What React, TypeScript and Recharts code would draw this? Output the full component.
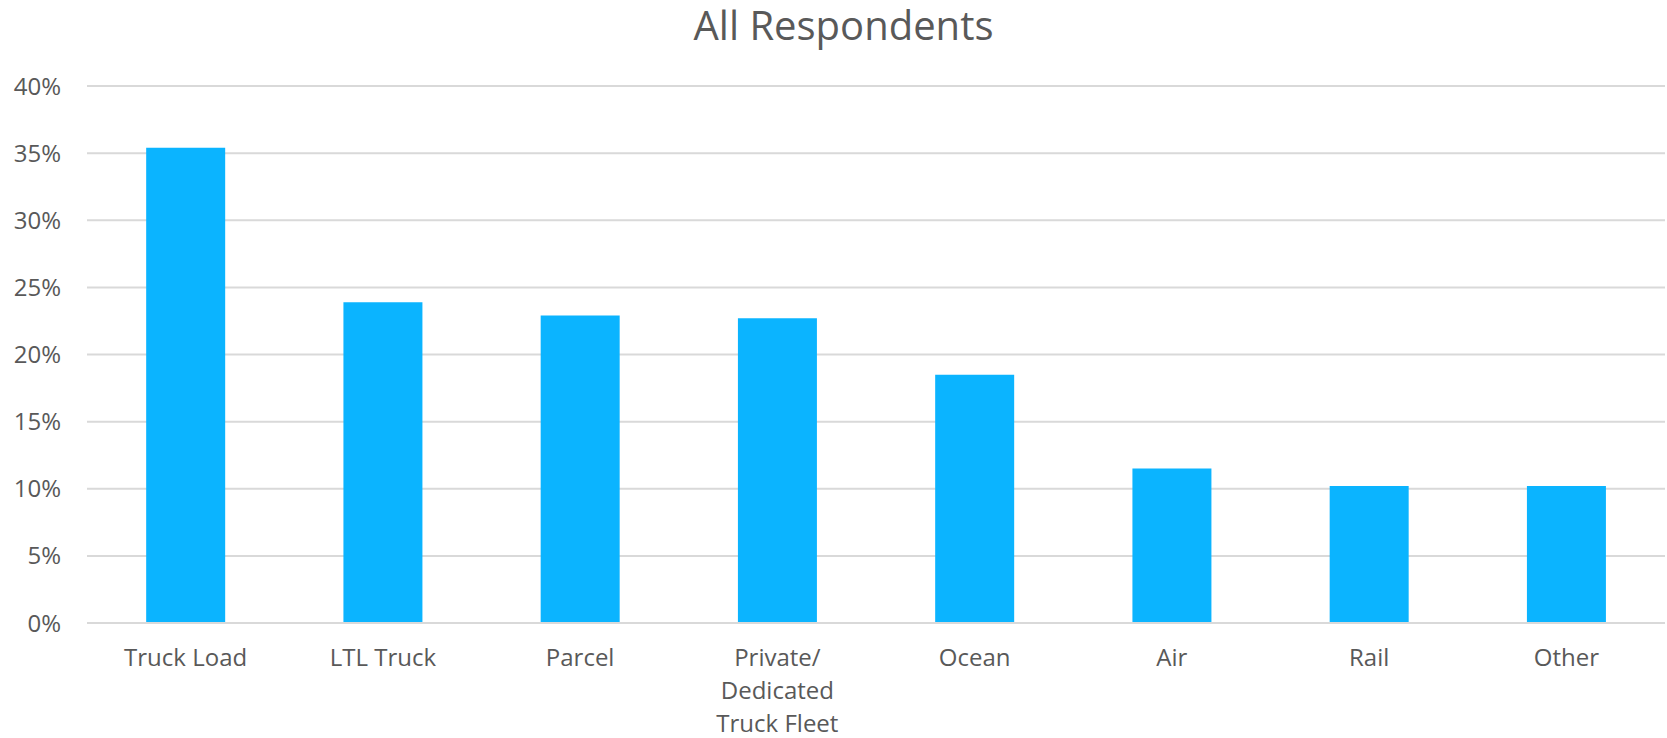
import { Bar, BarChart, CartesianGrid, XAxis, YAxis } from "recharts";

const categories = [
  "Truck Load",
  "LTL Truck",
  "Parcel",
  "Private/\nDedicated\nTruck Fleet",
  "Ocean",
  "Air",
  "Rail",
  "Other",
];
const shares = [35.4, 23.9, 22.9, 22.7, 18.5, 11.5, 10.2, 10.2];
const yTicks = [0, 5, 10, 15, 20, 25, 30, 35, 40];

const data = categories.map((name, i) => ({ name, value: shares[i] }));

const FONT = "'Open Sans', sans-serif";
const TEXT = "#595959";

const CategoryTick = (props: any) => {
  const { x, y, payload } = props;
  const lines = String(payload.value).split("\n");
  return (
    <text x={x} y={y} textAnchor="middle" fill={TEXT} fontSize={24} fontFamily={FONT}>
      {lines.map((line, i) => (
        <tspan key={i} x={x} dy={i === 0 ? 43 : 33}>
          {line}
        </tspan>
      ))}
    </text>
  );
};

export default function App() {
  return (
    <div style={{ position: "absolute", left: 0, top: 0, width: 1667, height: 738, background: "#fff" }}>
      <div
        style={{
          position: "absolute",
          top: 0,
          left: 0,
          width: 1687,
          textAlign: "center",
          fontFamily: FONT,
          fontSize: 40,
          lineHeight: "50px",
          color: TEXT,
        }}
      >
        All Respondents
      </div>
      <BarChart
        width={1667}
        height={738}
        data={data}
        margin={{ top: 86, right: 2, bottom: 85, left: 0 }}
        barCategoryGap="30%"
      >
        <CartesianGrid vertical={false} stroke="#d9d9d9" strokeWidth={2} />
        <XAxis
          dataKey="name"
          height={30}
          axisLine={{ stroke: "#d9d9d9", strokeWidth: 2 }}
          tickLine={false}
          tickSize={0}
          tickMargin={0}
          interval={0}
          tick={<CategoryTick />}
        />
        <YAxis
          width={87}
          domain={[0, 40]}
          ticks={yTicks}
          tickFormatter={(v: number) => `${v}%`}
          axisLine={false}
          tickLine={false}
          tickSize={0}
          tickMargin={26}
          tick={{ fill: TEXT, fontSize: 24, fontFamily: FONT }}
        />
        <Bar dataKey="value" fill="#0bb4ff" isAnimationActive={false} />
      </BarChart>
    </div>
  );
}
